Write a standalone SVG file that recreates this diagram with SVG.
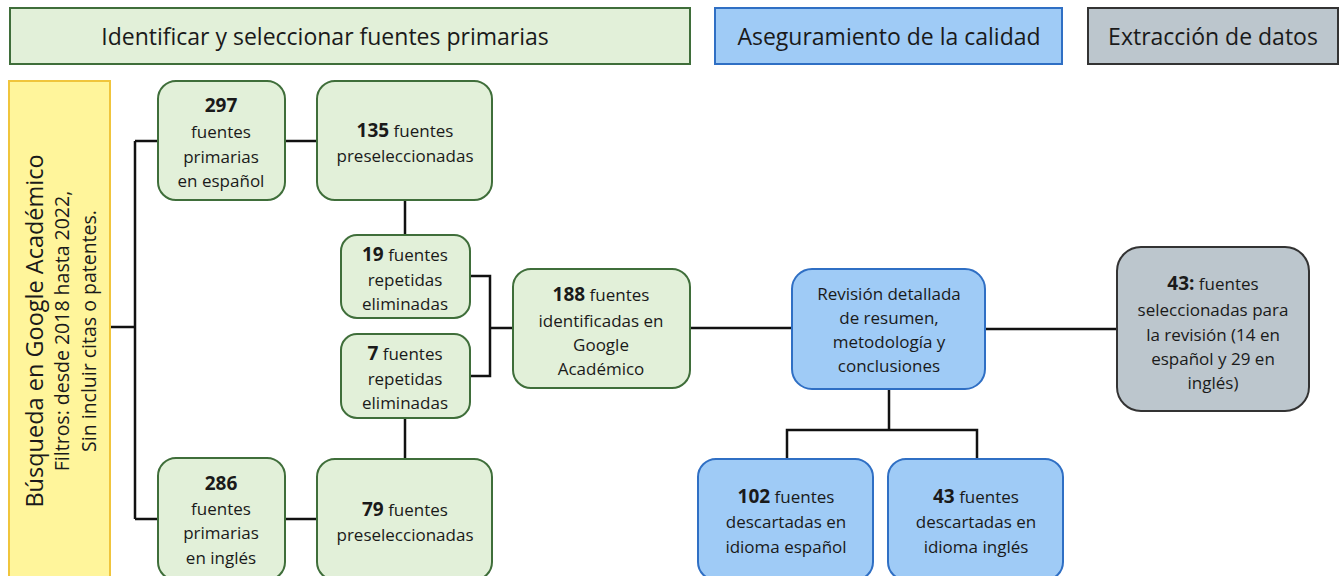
<svg xmlns="http://www.w3.org/2000/svg" width="1340" height="576" viewBox="0 0 1340 576">
<style>
text{font-family:"Open Sans","DejaVu Sans",sans-serif;fill:#1a1a1a;text-anchor:middle}
.t{font-size:17px}
.h{font-size:23px}
.b{font-weight:bold;font-size:19px}
.g{fill:#e2f0d9;stroke:#3f6e3a;stroke-width:2}
.bl{fill:#9fcbf6;stroke:#2f6fc4;stroke-width:2}
.gr{fill:#bcc6cd;stroke:#333;stroke-width:2}
.c{fill:none;stroke:#111;stroke-width:2.5}
</style>
<rect width="1340" height="576" fill="#fff"/>
<g id="hdr1"><rect x="10" y="8" width="680" height="56" class="g"/><text class="h" x="325" y="45">Identificar y seleccionar fuentes primarias</text></g>
<g id="hdr2"><rect x="715" y="8" width="347" height="56" class="bl"/><text class="h" x="889" y="45">Aseguramiento de la calidad</text></g>
<g id="hdr3"><rect x="1088" y="8" width="250" height="56" class="gr"/><text class="h" x="1213" y="45">Extracción de datos</text></g>
<g id="connectors">
<path class="c" d="M110 327H135M135 141V519M135 141H158M135 519H158"/>
<path class="c" d="M285 141H317"/>
<path class="c" d="M285 519H317"/>
<path class="c" d="M405 200V235M405 418V459"/>
<path class="c" d="M470 276H490V376H470M490 328H513"/>
<path class="c" d="M690 328H792"/>
<path class="c" d="M985 329H1117"/>
<path class="c" d="M889 389V430M787 459V430H977V459"/>
</g>
<g id="search"><rect x="9" y="81" width="101" height="500" fill="#fff59b" stroke="#f0c53c" stroke-width="2"/>
<g transform="translate(60,331) rotate(-90)">
<text x="0" y="-17" font-size="23.5">Búsqueda en Google Académico</text>
<text x="0" y="9" font-size="19.5">Filtros: desde 2018 hasta 2022,</text>
<text x="0" y="36" font-size="19.5">Sin incluir citas o patentes.</text>
</g></g>
<g id="n297"><rect x="158" y="81" width="127" height="119" rx="18" class="g"/>
<text class="t" x="221" y="112"><tspan class="b">297</tspan></text>
<text class="t" x="221" y="138">fuentes</text><text class="t" x="221" y="163">primarias</text><text class="t" x="221" y="187">en español</text></g>
<g id="n135"><rect x="317" y="81" width="175" height="119" rx="18" class="g"/>
<text class="t" x="405" y="137"><tspan class="b">135</tspan> fuentes</text>
<text class="t" x="405" y="162">preseleccionadas</text></g>
<g id="n19"><rect x="341" y="235" width="129" height="83" rx="16" class="g"/>
<text class="t" x="405" y="261"><tspan class="b">19</tspan> fuentes</text>
<text class="t" x="405" y="286">repetidas</text><text class="t" x="405" y="310">eliminadas</text></g>
<g id="n7"><rect x="341" y="334" width="129" height="84" rx="16" class="g"/>
<text class="t" x="405" y="360"><tspan class="b">7</tspan> fuentes</text>
<text class="t" x="405" y="385">repetidas</text><text class="t" x="405" y="409">eliminadas</text></g>
<g id="n286"><rect x="158" y="458" width="127" height="122" rx="18" class="g"/>
<text class="t" x="221" y="490"><tspan class="b">286</tspan></text>
<text class="t" x="221" y="515">fuentes</text><text class="t" x="221" y="539">primarias</text><text class="t" x="221" y="564">en inglés</text></g>
<g id="n79"><rect x="317" y="459" width="175" height="121" rx="18" class="g"/>
<text class="t" x="405" y="516"><tspan class="b">79</tspan> fuentes</text>
<text class="t" x="405" y="541">preseleccionadas</text></g>
<g id="n188"><rect x="513" y="269" width="177" height="119" rx="18" class="g"/>
<text class="t" x="601" y="301"><tspan class="b">188</tspan> fuentes</text>
<text class="t" x="601" y="327">identificadas en</text><text class="t" x="601" y="351">Google</text><text class="t" x="601" y="375">Académico</text></g>
<g id="nrev"><rect x="792" y="269" width="193" height="120" rx="20" class="bl"/>
<text class="t" x="889" y="300">Revisión detallada</text><text class="t" x="889" y="324">de resumen,</text>
<text class="t" x="889" y="348">metodología y</text><text class="t" x="889" y="372">conclusiones</text></g>
<g id="n43sel"><rect x="1117" y="247" width="192" height="164" rx="24" class="gr"/>
<text class="t" x="1213" y="290"><tspan class="b">43:</tspan> fuentes</text>
<text class="t" x="1213" y="316">seleccionadas para</text><text class="t" x="1213" y="341">la revisión (14 en</text>
<text class="t" x="1213" y="365">español y 29 en</text><text class="t" x="1213" y="389">inglés)</text></g>
<g id="n102"><rect x="698" y="459" width="175" height="121" rx="18" class="bl"/>
<text class="t" x="786" y="503"><tspan class="b">102</tspan> fuentes</text>
<text class="t" x="786" y="528">descartadas en</text><text class="t" x="786" y="553">idioma español</text></g>
<g id="n43"><rect x="888" y="459" width="175" height="121" rx="18" class="bl"/>
<text class="t" x="976" y="503"><tspan class="b">43</tspan> fuentes</text>
<text class="t" x="976" y="528">descartadas en</text><text class="t" x="976" y="553">idioma inglés</text></g>
</svg>
